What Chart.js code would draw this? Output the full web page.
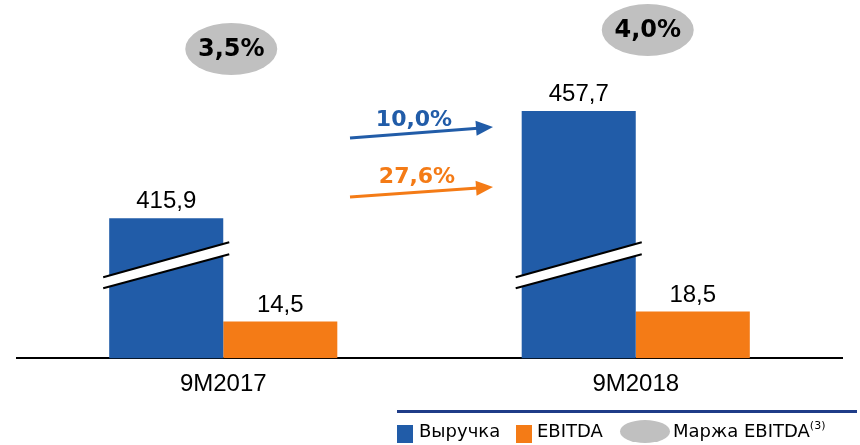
<!DOCTYPE html>
<html>
<head>
<meta charset="utf-8">
<script src="https://cdn.jsdelivr.net/npm/chart.js@4"></script>
<style>
  body { margin: 0; background: #fff; }
  #wrap { position: relative; width: 860px; height: 445px; }
  #chartBox { position: absolute; left: 0; top: 0; width: 860px; height: 411px; }
  .rule { position: absolute; left: 397px; top: 410px; width: 460px; height: 3px; background: #1f3c88; }
  .lg { position: absolute; top: 419px; font: 18px "DejaVu Sans", sans-serif; color: #000; line-height: 24px; white-space: nowrap; }
  .sw { position: absolute; top: 425px; width: 16px; height: 18px; }
  .ell { position: absolute; left: 620px; top: 420px; width: 50px; height: 23px; border-radius: 50%; background: #c0c0c0; }
  .sup { font-size: 11px; position: relative; top: -8px; line-height: 0; }
</style>
</head>
<body>
<div id="wrap">
  <div id="chartBox"><canvas id="salesChart"></canvas></div>
  <div class="rule"></div>
  <div class="sw" style="left:397px;background:#215ca8"></div>
  <div class="lg" style="left:419px">Выручка</div>
  <div class="sw" style="left:516px;background:#f47b16"></div>
  <div class="lg" style="left:537px">EBITDA</div>
  <div class="ell"></div>
  <div class="lg" style="left:673px">Маржа EBITDA<span class="sup">(3)</span></div>
</div>
<script>
// data
const periods  = ['9M2017', '9M2018'];
const revenue  = [415.9, 457.7];
const ebitda   = [14.5, 18.5];
const margin   = [3.5, 4.0];
const growth   = [{ label: '10,0%', color: '#215ca8' }, { label: '27,6%', color: '#f47b16' }];

const BLUE = '#215ca8';
const ORANGE = '#f47b16';

const fmt = v => v.toFixed(1).replace('.', ',');

// value labels, broken-axis marks, margin ovals and growth arrows
const decorPlugin = {
  id: 'decor',
  afterDatasetsDraw(chart) {
    const c = chart.ctx;
    const x = chart.scales.x;
    const bottom = chart.chartArea.bottom;

    // break marks on the revenue bars
    chart.getDatasetMeta(0).data.forEach(bar => {
      const p = bar.getProps(['x', 'width'], true);
      const l = p.x - p.width / 2 - 6;
      const r = p.x + p.width / 2 + 6;
      const yl = bottom - 81, yr = bottom - 116;
      c.save();
      c.fillStyle = '#fff';
      c.beginPath();
      c.moveTo(l, yl); c.lineTo(r, yr); c.lineTo(r, yr + 12); c.lineTo(l, yl + 11);
      c.closePath(); c.fill();
      c.strokeStyle = '#000'; c.lineWidth = 2;
      c.beginPath(); c.moveTo(l, yl); c.lineTo(r, yr); c.stroke();
      c.beginPath(); c.moveTo(l, yl + 11); c.lineTo(r, yr + 12); c.stroke();
      c.restore();
    });

    // value labels
    c.save();
    c.font = '24px "Liberation Sans", Arial, sans-serif';
    c.fillStyle = '#000';
    c.textAlign = 'center';
    c.textBaseline = 'alphabetic';
    chart.data.datasets.forEach((ds, i) => {
      chart.getDatasetMeta(i).data.forEach((bar, j) => {
        c.fillText(fmt(ds.data[j]), bar.x, bar.y - 10);
      });
    });
    c.restore();

    // margin ovals
    const ovalY = [49, 30];
    const ovalDx = [8, 12];
    margin.forEach((m, i) => {
      const cx = x.getPixelForValue(i) + ovalDx[i];
      c.save();
      c.fillStyle = '#c0c0c0';
      c.beginPath();
      c.ellipse(cx, ovalY[i], 46, 26, 0, 0, Math.PI * 2);
      c.fill();
      c.font = 'bold 24px "DejaVu Sans", Verdana, sans-serif';
      c.fillStyle = '#000';
      c.textAlign = 'center';
      c.textBaseline = 'middle';
      c.fillText(fmt(m) + '%', cx, ovalY[i] + 1);
      c.restore();
    });

    // growth arrows between the periods
    const x0 = 350, x1 = 493;
    const arrows = [[138, 127], [197, 187]];
    growth.forEach((g, i) => {
      const [y0, y1] = arrows[i];
      const ang = Math.atan2(y1 - y0, x1 - x0);
      c.save();
      c.strokeStyle = g.color; c.fillStyle = g.color; c.lineWidth = 3;
      c.beginPath();
      c.moveTo(x0, y0);
      c.lineTo(x1 - 15 * Math.cos(ang), y1 - 15 * Math.sin(ang));
      c.stroke();
      c.translate(x1, y1); c.rotate(ang);
      c.beginPath(); c.moveTo(0, 0); c.lineTo(-17, -7.5); c.lineTo(-17, 7.5); c.closePath(); c.fill();
      c.restore();
      c.save();
      c.font = 'bold 22px "DejaVu Sans", Verdana, sans-serif';
      c.fillStyle = g.color;
      c.textAlign = 'center';
      c.textBaseline = 'alphabetic';
      c.fillText(g.label, 414 + i * 3, y0 - 12 - i * 2);
      c.restore();
    });
  }
};

const ctx = document.getElementById('salesChart').getContext('2d');
const salesChart = new Chart(ctx, {
  type: 'bar',
  data: {
    labels: periods,
    datasets: [
      { label: 'Выручка', data: revenue, backgroundColor: BLUE, yAxisID: 'yRev' },
      { label: 'EBITDA', data: ebitda, backgroundColor: ORANGE, yAxisID: 'y' }
    ]
  },
  options: {
    responsive: true,
    maintainAspectRatio: false,
    animation: false,
    layout: { padding: { left: 17, right: 18, top: 0, bottom: 0 } },
    datasets: { bar: { categoryPercentage: 0.553, barPercentage: 1 } },
    plugins: { legend: { display: false }, tooltip: { enabled: false } },
    scales: {
      x: {
        grid: { display: false, drawTicks: false },
        border: { display: true, color: '#000', width: 2 },
        ticks: {
          color: '#000',
          padding: 12,
          font: { family: '"Liberation Sans", Arial, sans-serif', size: 24 }
        }
      },
      y: { display: false, min: 0, max: 142 },
      yRev: { display: false, min: 361.4, max: 500.9 }
    }
  },
  plugins: [decorPlugin]
});
</script>
</body>
</html>
